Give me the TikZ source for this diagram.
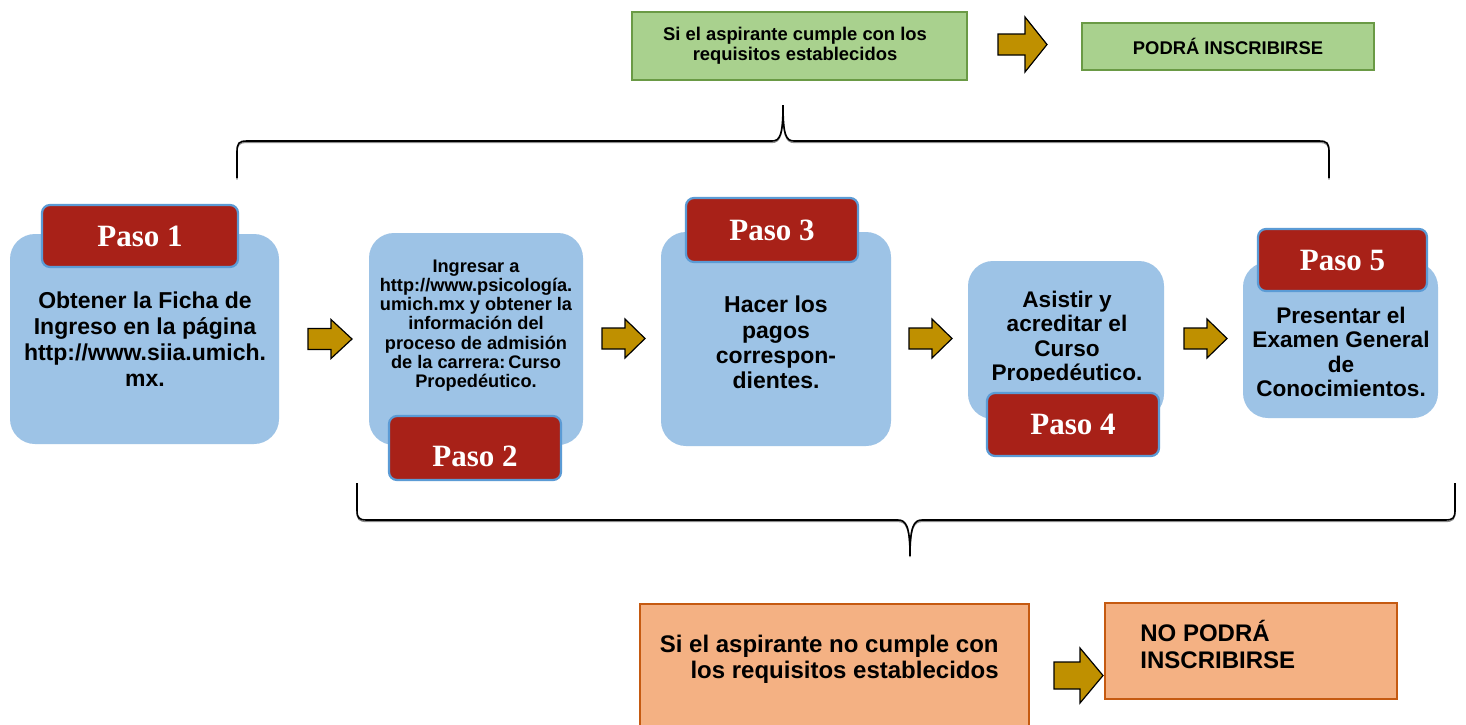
\documentclass[tikz,border=0pt]{standalone}
\usepackage{fontspec}
\setmainfont{Liberation Sans}
\newfontfamily\tnr{Liberation Serif}
\definecolor{boxblue}{HTML}{9DC3E6}
\definecolor{pasored}{HTML}{A82118}
\definecolor{pasoborder}{HTML}{5B9BD5}
\definecolor{grfill}{HTML}{A9D18E}
\definecolor{grdraw}{HTML}{6A9A45}
\definecolor{orfill}{HTML}{F4B183}
\definecolor{ordraw}{HTML}{C55A11}
\definecolor{arrfill}{HTML}{BF9000}
\newcommand\blockarrow[6]{%
  \draw[blockarr] (#1,#2-#5) -- (#1+#3,#2-#5) -- (#1+#3,#2-#6) -- (#1+#3+#4,#2)
    -- (#1+#3,#2+#6) -- (#1+#3,#2+#5) -- (#1,#2+#5) -- cycle;}
\tikzset{
  blue/.style={fill=boxblue, draw=none, rounded corners=12.5pt, inner sep=0pt},
  paso/.style={fill=pasored, draw=pasoborder, line width=1.1pt, rounded corners=4pt,
    text=white, inner sep=0pt, font=\tnr\bfseries\fontsize{15.5}{18}\selectfont},
  btxt/.style={align=center, inner sep=0pt, font=\bfseries\fontsize{11.5}{12.6}\selectfont},
  green/.style={fill=grfill, draw=grdraw, line width=1pt, inner sep=0pt},
  orange/.style={fill=orfill, draw=ordraw, line width=1pt, inner sep=0pt},
  blockarr/.style={fill=arrfill, draw=black, line width=0.6pt, line join=miter},
  bracel/.style={draw=black, line width=0.8pt},
  braceshadow/.style={draw=black!45, line width=0.6pt},
}
\begin{document}
\begin{tikzpicture}[x=0.5pt, y=-0.5pt]
\clip (0,0) rectangle (1466,724);
\fill[white] (0,0) rectangle (1466,724);

% top green boxes
\node[green, minimum width=167.5pt, minimum height=34pt] (g1) at (799.5,46) {};
\node[align=center, inner sep=0pt, font=\bfseries\fontsize{9.2}{10}\selectfont] (g1t) at (795,46)
  {Si el aspirante cumple con los\\requisitos establecidos};
\node[green, minimum width=146pt, minimum height=23.5pt, font=\bfseries\fontsize{9.2}{10}\selectfont] (g2) at (1228,46.5) {PODRÁ INSCRIBIRSE};
\blockarrow{998}{44.5}{27}{22}{10.5}{27.5}

% top brace
\draw[braceshadow] (237,179.5) -- (237,153.5) .. controls (237,144.5) and (239,142.5) .. (247,142.5) -- (772,142.5) .. controls (780,142.5) and (783,136) .. (783,106) .. controls (783,136) and (786,142.5) .. (794,142.5) -- (1319,142.5) .. controls (1327,142.5) and (1329,144.5) .. (1329,153.5) -- (1329,179.5);
\draw[bracel] (237,178) -- (237,152) .. controls (237,143) and (239,141) .. (247,141) -- (772,141) .. controls (780,141) and (783,135) .. (783,105) .. controls (783,135) and (786,141) .. (794,141) -- (1319,141) .. controls (1327,141) and (1329,143) .. (1329,152) -- (1329,178);

% blue boxes
\node[blue, minimum width=134.5pt, minimum height=105pt] (b1) at (144.5,339) {};
\node[blue, minimum width=107pt, minimum height=106pt] (b2) at (476,339) {};
\node[blue, minimum width=115pt, minimum height=107pt] (b3) at (776,339) {};
\node[blue, minimum width=98pt, minimum height=79pt] (b4) at (1066,340) {};
\node[blue, minimum width=97.5pt, minimum height=78pt] (b5) at (1340.5,340) {};

% texts
\node[btxt, font=\bfseries\fontsize{11.5}{13}\selectfont] (t1) at (145,339)
  {Obtener la Ficha de\\Ingreso en la página\\http://www.siia.umich.\\mx.};
\node[btxt, font=\bfseries\fontsize{9.1}{9.6}\selectfont] (t2) at (476,325.5)
  {Ingresar a\\http://www.psicología.\\umich.mx y obtener la\\información del\\proceso de admisión\\de la carrera:\,Curso\\Propedéutico.};
\node[btxt] (t3) at (776,342.5) {Hacer los\\pagos\\correspon-\\dientes.};
\begin{scope}
\clip (968,261) rectangle (1164,380);
\node[btxt, font=\bfseries\fontsize{11.3}{12.2}\selectfont] (t4) at (1067,338) {Asistir y\\acreditar el\\Curso\\Propedéutico.};
\end{scope}
\node[btxt, font=\bfseries\fontsize{11.3}{12.2}\selectfont] (t5) at (1341,352)
  {Presentar el\\Examen General\\de\\Conocimientos.};

% paso boxes
\node[paso, minimum width=98pt, minimum height=31pt] (p1) at (140,236) {Paso 1};
\node[paso, minimum width=86pt, minimum height=32pt] (p2) at (475,448) {\raisebox{-4pt}[\height][\depth]{Paso 2}};
\node[paso, minimum width=86pt, minimum height=32pt] (p3) at (772,230) {Paso 3};
\node[paso, minimum width=86pt, minimum height=31.5pt] (p4) at (1073,424.5) {Paso 4};
\node[paso, minimum width=84.5pt, minimum height=31pt] (p5) at (1342.5,260) {Paso 5};

% step arrows
\blockarrow{308}{339}{23}{21}{10.5}{19.5}
\blockarrow{602}{338.5}{23}{20}{10.5}{19.5}
\blockarrow{909}{338.5}{23}{20}{10.5}{19.5}
\blockarrow{1184}{338.5}{23}{20}{10.5}{19.5}

% bottom brace
\draw[braceshadow] (357,484.5) -- (357,511.5) .. controls (357,519.5) and (359,521.5) .. (367,521.5) -- (898,521.5) .. controls (906,521.5) and (910,527.5) .. (910,557) .. controls (910,527.5) and (914,521.5) .. (922,521.5) -- (1445,521.5) .. controls (1453,521.5) and (1455,519.5) .. (1455,511.5) -- (1455,484.5);
\draw[bracel] (357,483) -- (357,510) .. controls (357,518) and (359,520) .. (367,520) -- (898,520) .. controls (906,520) and (910,526) .. (910,556) .. controls (910,526) and (914,520) .. (922,520) -- (1445,520) .. controls (1453,520) and (1455,518) .. (1455,510) -- (1455,483);

% bottom orange boxes
\node[orange, minimum width=194.5pt, minimum height=70pt] (o1) at (834.5,674) {};
\node[align=right, anchor=east, inner sep=0pt, font=\bfseries\fontsize{12}{13}\selectfont] (o1t) at (999,659)
  {Si el aspirante no cumple con\\los requisitos establecidos};
\node[orange, minimum width=146pt, minimum height=48pt] (o2) at (1251,651) {};
\node[align=left, anchor=west, inner sep=0pt, font=\bfseries\fontsize{12}{13.5}\selectfont] (o2t) at (1140,644.5)
  {NO PODRÁ\\INSCRIBIRSE};
\blockarrow{1054}{675.5}{26}{23}{13.5}{27.5}
\end{tikzpicture}
\end{document}
